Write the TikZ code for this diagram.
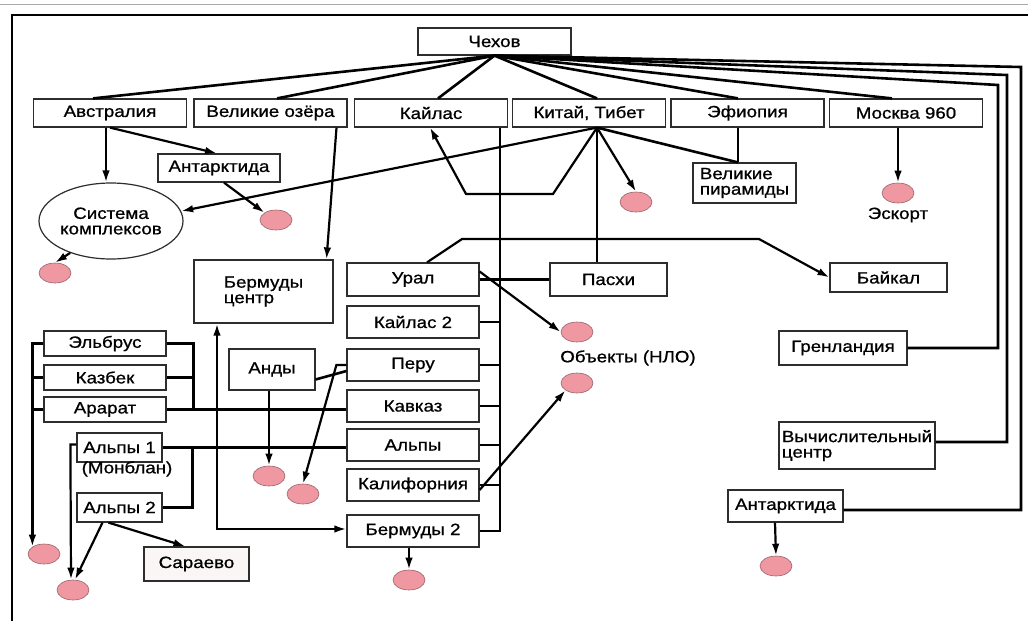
\documentclass[tikz,border=0pt]{standalone}
\usepackage{fontspec}
\setmainfont{Liberation Sans}[FakeStretch=1.15,FakeBold=0.8]
\usetikzlibrary{shapes.geometric}
\usetikzlibrary{arrows.meta}

\begin{document}
\fontsize{16.3}{15.5}\selectfont
\begin{tikzpicture}[x=1pt,y=1pt,yscale=-1,xscale=1,
  box/.style={draw={rgb, 255:red, 45; green, 45; blue, 45 }, line width=1.2pt, fill=white, inner sep=1pt},
  topbox/.style={box, minimum width=153pt, minimum height=28pt},
  colbox/.style={box, minimum width=132pt, minimum height=32pt},
  peakbox/.style={box, minimum width=122pt, minimum height=25pt},
  alpbox/.style={box, minimum width=85pt, minimum height=29pt},
  ufo/.style={ellipse, draw={rgb, 255:red, 150; green, 100; blue, 105 }, line width=0.6pt, fill={rgb, 255:red, 240; green, 152; blue, 162 }, minimum width=32pt, minimum height=20pt, inner sep=0pt},
  link/.style={line width=2.6pt},
  arr/.style={line width=2.2pt, -{Latex[length=12pt,width=7.5pt]}},
  arrboth/.style={line width=2.2pt, {Latex[length=12pt,width=7.5pt]}-{Latex[length=12pt,width=7.5pt]}}]
\useasboundingbox (0,0) rectangle (1028,622);

%Frame
\draw [color={rgb, 255:red, 170; green, 170; blue, 170 }, line width=1pt] (0,4) -- (1028,4) ;
\draw [line width=2.4pt] (12,621) -- (12,15) -- (1028,15) ;

%Rectangles
\node [topbox, minimum height=27pt] (chekhov) at (494.5,41.5) {Чехов};
\node [topbox] (avstr) at (110,113) {Австралия};
\node [topbox] (ozera) at (270.5,113) {Великие озёра};
\node [topbox] (kajlas) at (431,113) {Кайлас};
\node [topbox] (kitaj) at (589,113) {Китай, Тибет};
\node [topbox] (efiop) at (747.5,113) {Эфиопия};
\node [topbox] (moskva) at (906,113) {Москва 960};
\node [box, minimum width=122pt, minimum height=28pt] (antarkt) at (219,168) {Антарктида};
\node [box, minimum width=103pt, minimum height=40pt, align=left] (piram) at (744.5,183) {Великие\\пирамиды};
\node [box, minimum width=139pt, minimum height=63pt, align=left] (bermc) at (263.5,291.5) {Бермуды\\центр};
\node [colbox, minimum height=33pt] (ural) at (413,279.5) {Урал};
\node [box, minimum width=117pt, minimum height=33pt] (pashi) at (608.5,279.5) {Пасхи};
\node [box, minimum width=117pt, minimum height=29pt] (bajkal) at (888.5,277.5) {Байкал};
\node [colbox] (kajlasb) at (413,322) {Кайлас 2};
\node [colbox] (peru) at (413,365) {Перу};
\node [colbox] (kavkaz) at (413,406) {Кавказ};
\node [colbox] (alpy) at (413,445) {Альпы};
\node [colbox] (kalif) at (413,485) {Калифорния};
\node [colbox] (bermb) at (413,531) {Бермуды 2};
\node [peakbox] (elbrus) at (105,343.5) {Эльбрус};
\node [peakbox] (kazbek) at (105,377.5) {Казбек};
\node [peakbox] (ararat) at (105,409.5) {Арарат};
\node [alpbox] (alpya) at (119.5,447.5) {Альпы 1};
\node [alpbox] (alpyb) at (119.5,507.5) {Альпы 2};
\node [box, minimum width=105pt, minimum height=34pt, fill={rgb, 255:red, 250; green, 246; blue, 246 }] (saraevo) at (196.5,564) {Сараево};
\node [box, minimum width=86pt, minimum height=41pt] (andy) at (272,369.5) {Анды};
\node [box, minimum width=128pt, minimum height=34pt] (grenl) at (843,348) {Гренландия};
\node [box, minimum width=156pt, minimum height=47pt, align=left] (vych) at (857,445.5) {Вычислительный\\центр};
\node [box, minimum width=115pt, minimum height=32pt] (antarktb) at (785.5,506) {Антарктида};

%Ellipses
\node [ellipse, draw={rgb, 255:red, 45; green, 45; blue, 45 }, line width=1.2pt, fill=white, minimum width=144pt, minimum height=76pt, inner sep=0pt, align=center] (sistema) at (111,221) {Система\\комплексов};
\node [ufo] (ea) at (276,220) {};
\node [ufo] (eb) at (55,273) {};
\node [ufo] (ec) at (636,202) {};
\node [ufo] (ed) at (898,193) {};
\node [ufo] (ee) at (577,332) {};
\node [ufo] (ef) at (577,383) {};
\node [ufo] (eg) at (44,554) {};
\node [ufo] (eh) at (73,590) {};
\node [ufo] (ei) at (269,476) {};
\node [ufo] (ej) at (303,494) {};
\node [ufo] (ek) at (409,580) {};
\node [ufo] (el) at (776,566) {};

% Text Node
\node (eskort) at (898,215) {Эскорт};
% Text Node
\node (nlo) at (628,358) {Объекты (НЛО)};
% Text Node
\node (monblan) at (127,469) {(Монблан)};

%Straight Lines from the top
\draw [link] (chekhov.south) -- ([xshift=-17pt]avstr.north) ;
\draw [link] (chekhov.south) -- ([xshift=6.5pt]ozera.north) ;
\draw [link] (chekhov.south) -- ([xshift=7pt]kajlas.north) ;
\draw [link] (chekhov.south) -- ([xshift=8pt]kitaj.north) ;
\draw [link] (chekhov.south) -- ([xshift=-9.5pt]efiop.north) ;
\draw [link] (chekhov.south) -- ([xshift=-14pt]moskva.north) ;
\draw [link] (chekhov.south) -- (998,85) |- (grenl.east) ;
\draw [link] (chekhov.south) -- (1007,75) |- ([yshift=-3.5pt]vych.east) ;
\draw [link] (chekhov.south) -- (1021,67) |- ([yshift=4pt]antarktb.east) ;

%Arrows of the first row
\draw [arr] ([xshift=-4pt]avstr.south) -- ([xshift=-5pt]sistema.north) ;
\draw [arr] (avstr.south) -- ([xshift=-2pt]antarkt.north) ;
\draw [arr] ([xshift=5pt]antarkt.south) -- (ea.north west) ;
\draw [arr] (sistema.218) -- (eb.north) ;
\draw [arr] ([xshift=66pt]ozera.south) -- ([xshift=63pt]bermc.north) ;
\coordinate (kt) at ([xshift=8pt]kitaj.south) ;
\draw [arr] (kt) -- (sistema.8) ;
\draw [arr] (kt) -- (553,194) -- (466,194) -- ([xshift=-1pt]kajlas.south) ;
\draw [arr] (kt) -- (ec.north) ;
\draw [link] (kt) -- (kt |- pashi.north) ;
\draw [link] (kt) -- ([xshift=-6.5pt]piram.north) ;
\draw [link] ([xshift=-9.5pt]efiop.south) -- ([xshift=-6.5pt]piram.north) ;
\draw [arr] ([xshift=-8pt]moskva.south) -- (ed.north) ;

%Middle column
\draw [link] ([xshift=69pt]kajlas.south) coordinate (bus) |- (bermb.east) ;
\draw [link] (kajlasb.east) -- (kajlasb.east -| bus) ;
\draw [link] (peru.east) -- (peru.east -| bus) ;
\draw [link] (kavkaz.east) -- (kavkaz.east -| bus) ;
\draw [link] (alpy.east) -- (alpy.east -| bus) ;
\draw [link] (kalif.east) -- (kalif.east -| bus) ;
\draw [link] (ural.east) -- (pashi.west) ;
\draw [arr] ([xshift=14pt]ural.north) -- (462,239) -- (759,239) -- (bajkal.west) ;
\draw [arr] ([yshift=-8pt]ural.east) -- (ee.west) ;
\draw [arr] ([yshift=5pt]kalif.east) -- (ef.south west) ;
\draw [arr] ([xshift=-4pt]bermb.south) -- (ek.north) ;
\draw [arrboth] ([xshift=-46.5pt]bermc.south) |- ([yshift=-2pt]bermb.west) ;

%Andes
\draw [link] ([yshift=10pt]andy.east) -- ([yshift=6pt]peru.west) ;
\draw [arr] (peru.west) -- ++(-10,0) -- (ej.north) ;
\draw [arr] ([xshift=-3pt]andy.south) -- (ei.north) ;

%Caucasus
\draw [link] (elbrus.east) -- ++(27,0) coordinate (kr) |- (ararat.east) ;
\draw [link] (kazbek.east) -- (kazbek.east -| kr) ;
\draw [link] (ararat.east) -- (ararat.east -| kavkaz.west) ;
\draw [link] (elbrus.west) -- ++(-11,0) coordinate (kl) |- (ararat.west) ;
\draw [link] (kazbek.west) -- (kazbek.west -| kl) ;
\draw [arr] (kl) -- (kl |- eg.north west) ;

%Alps
\draw [link] (alpya.east) -- (alpya.east -| alpy.west) ;
\draw [link] ([xshift=30pt]alpya.east) |- (alpyb.east) ;
\draw [arr] ([yshift=-3pt]alpya.west) -- ++(-6,0) -- ([xshift=-2pt]eh.north) ;
\draw [arr] ([xshift=-17pt]alpyb.south) -- ([xshift=2pt]eh.north) ;
\draw [arr] ([xshift=-11pt]alpyb.south) -- ([xshift=-11pt]saraevo.north) ;

%Right side
\draw [arr] ([xshift=-10.5pt]antarktb.south) -- (el.north) ;

\end{tikzpicture}
\end{document}
